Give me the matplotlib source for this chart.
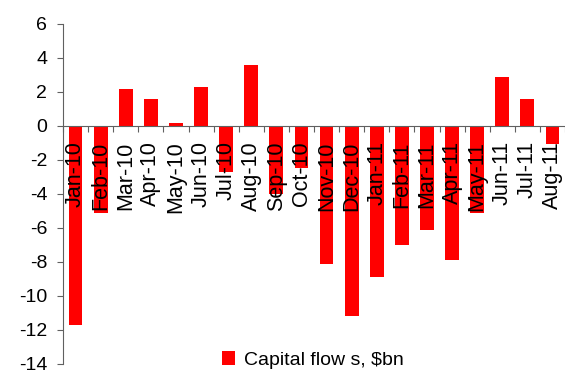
import numpy as np
import matplotlib
matplotlib.use('Agg')
import matplotlib.pyplot as plt

plt.rcParams['font.family'] = ['Liberation Sans', 'DejaVu Sans']

months = ['Jan-10', 'Feb-10', 'Mar-10', 'Apr-10', 'May-10', 'Jun-10', 'Jul-10',
          'Aug-10', 'Sep-10', 'Oct-10', 'Nov-10', 'Dec-10', 'Jan-11', 'Feb-11',
          'Mar-11', 'Apr-11', 'May-11', 'Jun-11', 'Jul-11', 'Aug-11']
flows = [-11.7, -5.1, 2.15, 1.6, 0.2, 2.3, -2.7, 3.6, -4.0, -2.5,
         -8.1, -11.2, -8.9, -7.0, -6.1, -7.9, -5.1, 2.9, 1.6, -1.05]
yticks = [6, 4, 2, 0, -2, -4, -6, -8, -10, -12, -14]

axcol = '#606060'

fig = plt.figure(figsize=(5.65, 3.72), dpi=100)
ax = fig.add_axes([63/565, 1-364/372, 1-63/565, 340/372])

# spine position first (it resets the tick settings)
ax.spines['top'].set_visible(False)
ax.spines['right'].set_visible(False)
ax.spines['bottom'].set_position(('data', 0))
ax.spines['left'].set_color(axcol)
ax.spines['bottom'].set_color(axcol)

xpos = np.arange(len(months)) + 0.5
bars = ax.bar(xpos, flows, width=0.55, color='#ff0000', label='Capital flow s, $bn', zorder=1)

ax.set_xlim(0, len(months))
ax.set_ylim(-14, 6)
ax.set_yticks(yticks)
ax.set_yticklabels([str(v) for v in yticks])

ax.set_xticks(np.arange(len(months)+1))
ax.set_xticklabels([])
ax.set_xticks(xpos, minor=True)
ax.set_xticklabels(months, minor=True)

ax.tick_params(axis='x', which='major', direction='out', length=4, color=axcol)
ax.tick_params(axis='x', which='minor', length=0, pad=11, labelrotation=90, labelsize=15.5)
ax.tick_params(axis='y', direction='out', length=4.3, pad=7, color=axcol, labelsize=14)

fig.legend(handles=[bars], loc='center left', bbox_to_anchor=(222/565, 1-360/372),
           frameon=False, fontsize=14, handlelength=0.67, handleheight=0.67,
           handletextpad=0.45, borderpad=0, borderaxespad=0)

fig.savefig('out.png', dpi=100)
